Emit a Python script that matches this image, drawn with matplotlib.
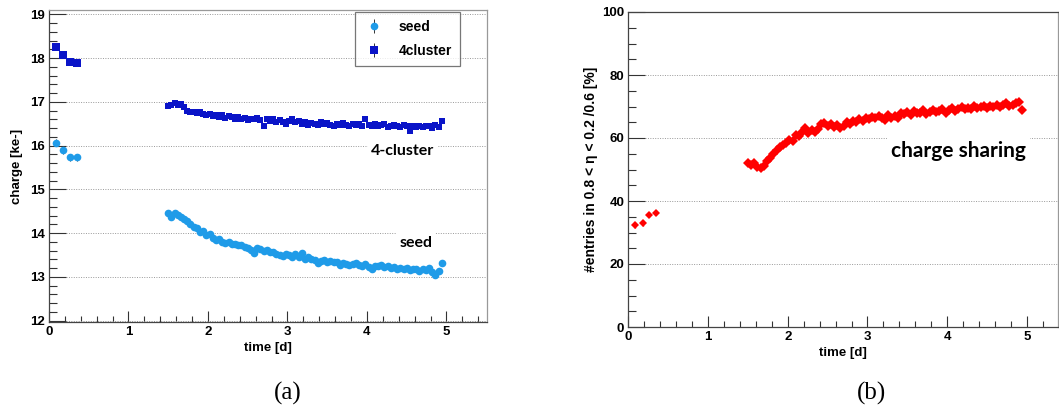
import numpy as np
import matplotlib
matplotlib.use("Agg")
import matplotlib.pyplot as plt
from matplotlib.ticker import MultipleLocator

plt.rcParams['font.family'] = ['Liberation Sans', 'DejaVu Sans']

# early measurements (first hours)
t_early = [0.09, 0.18, 0.26, 0.35]
seed_early = [16.07, 15.90, 15.73, 15.73]
cluster_early = [18.26, 18.08, 17.92, 17.89]
share_early = [32.3, 33.0, 35.7, 36.3]

# main run, one bin every 0.04 d starting at 1.5 d
t_main = np.round(np.arange(1.50, 4.95, 0.04), 2)

seed_main = [
    14.45, 14.38, 14.47, 14.42, 14.36, 14.32, 14.28, 14.22, 14.15, 14.12,
    14.02, 14.05, 13.96, 13.98, 13.88, 13.84, 13.86, 13.80, 13.78, 13.80,
    13.75, 13.76, 13.72, 13.73, 13.68, 13.66, 13.62, 13.55, 13.65, 13.63,
    13.60, 13.62, 13.57, 13.58, 13.52, 13.50, 13.47, 13.53, 13.50, 13.46,
    13.52, 13.45, 13.55, 13.42, 13.46, 13.40, 13.38, 13.32, 13.36, 13.38,
    13.35, 13.37, 13.33, 13.34, 13.28, 13.31, 13.30, 13.28, 13.30, 13.32,
    13.27, 13.24, 13.30, 13.22, 13.18, 13.26, 13.24, 13.28, 13.22, 13.25,
    13.20, 13.23, 13.19, 13.21, 13.18, 13.20, 13.16, 13.19, 13.17, 13.14,
    13.18, 13.15, 13.20, 13.12, 13.05, 13.14, 13.32]

cluster_main = [
    16.90, 16.93, 16.97, 16.92, 16.95, 16.88, 16.80, 16.76, 16.78, 16.74,
    16.76, 16.72, 16.70, 16.73, 16.68, 16.70, 16.66, 16.69, 16.64, 16.67,
    16.65, 16.62, 16.66, 16.60, 16.63, 16.58, 16.62, 16.60, 16.64, 16.58,
    16.46, 16.60, 16.57, 16.62, 16.55, 16.58, 16.54, 16.50, 16.57, 16.62,
    16.53, 16.56, 16.50, 16.54, 16.48, 16.52, 16.50, 16.47, 16.53, 16.49,
    16.51, 16.48, 16.46, 16.50, 16.47, 16.52, 16.48, 16.45, 16.49, 16.47,
    16.50, 16.46, 16.61, 16.48, 16.45, 16.49, 16.44, 16.47, 16.50, 16.43,
    16.46, 16.48, 16.44, 16.42, 16.47, 16.44, 16.33, 16.46, 16.43, 16.45,
    16.42, 16.46, 16.44, 16.40, 16.48, 16.43, 16.56]

share_main = [
    52.0, 51.5, 52.2, 50.8, 50.5, 51.2, 52.8, 53.5, 55.0, 56.2,
    57.0, 57.8, 58.5, 59.5, 59.0, 61.0, 60.5, 62.0, 63.2, 61.5,
    62.5, 61.8, 63.0, 64.5, 64.8, 63.8, 64.5, 63.5, 64.0, 63.2,
    63.8, 65.0, 64.6, 65.5, 65.2, 66.0, 65.3, 66.5, 66.0, 66.8,
    66.2, 67.0, 66.4, 65.8, 67.2, 66.5, 67.0, 66.3, 68.0, 67.5,
    68.2, 67.4, 68.5, 67.8, 68.0, 68.8, 67.6, 68.4, 69.0, 68.2,
    68.6, 69.2, 68.0, 69.0, 69.5, 68.7, 69.3, 70.0, 69.1, 69.6,
    69.2, 70.1, 69.4, 69.8, 70.3, 69.5, 70.2, 69.8, 70.6, 70.0,
    70.4, 71.2, 70.1, 70.6, 71.0, 71.4, 68.8]

SEED_COLOR = "#1f9be8"
CLUSTER_COLOR = "#0a14c8"
SHARE_COLOR = "#ff0000"
TICK_SIZE = 9.5


def style_axes(ax, ymajor, yminor):
    ax.xaxis.set_major_locator(MultipleLocator(1))
    ax.xaxis.set_minor_locator(MultipleLocator(0.2))
    ax.yaxis.set_major_locator(MultipleLocator(ymajor))
    ax.yaxis.set_minor_locator(MultipleLocator(yminor))
    ax.tick_params(which="both", direction="in", colors="#333333", width=0.8,
                   top=False, right=False)
    ax.tick_params(which="major", length=8, pad=3)
    ax.tick_params(which="minor", length=4)
    ax.tick_params(axis="y", which="major", length=12)
    ax.tick_params(axis="y", which="minor", length=6)
    for lab in ax.get_xticklabels() + ax.get_yticklabels():
        lab.set_fontsize(TICK_SIZE)
        lab.set_fontweight("bold")
        lab.set_color("black")
    ax.grid(axis="y", which="major", linestyle=(0, (1, 1.5)), color="#999999",
            linewidth=0.7)
    ax.set_axisbelow(True)
    ax.spines["left"].set_color("#444444")
    ax.spines["bottom"].set_color("#444444")
    ax.spines["top"].set_color("#999999")
    ax.spines["right"].set_color("#999999")
    for s in ax.spines.values():
        s.set_linewidth(0.9)


fig = plt.figure(figsize=(10.59, 4.12), dpi=100)

# ---------- (a) charge vs time ----------
ax1 = fig.add_axes([49 / 1059, 1 - 322 / 412, 438 / 1059, 312 / 412])
ax1.errorbar(t_main, seed_main, yerr=0.03, fmt="o", color=SEED_COLOR,
             ecolor="#333333", elinewidth=0.6, markersize=5.5, mew=0, zorder=3)
ax1.errorbar(t_early, seed_early, yerr=0.08, fmt="o", color=SEED_COLOR,
             ecolor="#333333", elinewidth=0.7, markersize=5.5, mew=0, zorder=3,
             label="seed")
ax1.errorbar(t_main, cluster_main, yerr=0.03, fmt="s", color=CLUSTER_COLOR,
             ecolor="#333333", elinewidth=0.6, markersize=5, mew=0, zorder=3)
ax1.errorbar(t_early, cluster_early, yerr=0.05, fmt="s", color=CLUSTER_COLOR,
             ecolor="#333333", elinewidth=0.7, markersize=5.5, mew=0, zorder=3,
             label="4cluster")
ax1.set_xlim(0, 5.51)
ax1.set_ylim(11.97, 19.1)
style_axes(ax1, 1, 0.2)
ax1.set_xlabel("time [d]", fontsize=9.5, fontweight="bold", labelpad=3)
ax1.set_ylabel("charge [ke-]", fontsize=9.5, fontweight="bold", labelpad=5)

ax1.text(4.45, 15.88, "4-cluster", ha="center", va="center", fontsize=11.5,
         family="Lato", fontweight="bold",
         bbox=dict(facecolor="white", edgecolor="none", pad=2), zorder=4)
ax1.text(4.62, 13.78, "seed", ha="center", va="center", fontsize=11.5,
         family="Lato", fontweight="bold",
         bbox=dict(facecolor="white", edgecolor="none", pad=2), zorder=4)

leg = ax1.legend(loc="upper left", bbox_to_anchor=(0.699, 0.994),
                 prop=dict(size=10, weight="bold"), frameon=True,
                 fancybox=False, borderpad=0.55, handletextpad=1.0,
                 labelspacing=0.75, handlelength=1.6, borderaxespad=0)
leg.get_frame().set_edgecolor("#555555")
leg.get_frame().set_linewidth(0.9)

# ---------- (b) charge sharing ----------
ax2 = fig.add_axes([628.3 / 1059, 1 - 327 / 412, 429.7 / 1059, 315 / 412])
ax2.errorbar(t_main, share_main, yerr=0.8, fmt="D", color=SHARE_COLOR,
             ecolor=SHARE_COLOR, elinewidth=1.0, markersize=5, mew=0,
             zorder=3)
ax2.errorbar(t_early, share_early, yerr=0.9, fmt="D", color=SHARE_COLOR,
             ecolor=SHARE_COLOR, elinewidth=1.0, markersize=4.5, mew=0,
             zorder=3)
ax2.set_xlim(0, 5.39)
ax2.set_ylim(0, 100)
style_axes(ax2, 20, 5)
ax2.spines["top"].set_color("#444444")
ax2.set_xlabel("time [d]", fontsize=9.5, fontweight="bold", labelpad=3)
ax2.set_ylabel("#entries in 0.8 < \u03b7 < 0.2 /0.6 [%]", fontsize=10,
               fontweight="bold", labelpad=3)

ax2.text(4.14, 55.8, "charge sharing", ha="center", va="center", fontsize=15,
         family="Lato", fontweight="bold",
         bbox=dict(facecolor="white", edgecolor="none", pad=3), zorder=4)

fig.text(288 / 1059, 1 - 393 / 412, "(a)", ha="center", va="center",
         fontsize=18, family="Liberation Serif")
fig.text(872 / 1059, 1 - 393 / 412, "(b)", ha="center", va="center",
         fontsize=18, family="Liberation Serif")

fig.savefig("out.png", dpi=100)
